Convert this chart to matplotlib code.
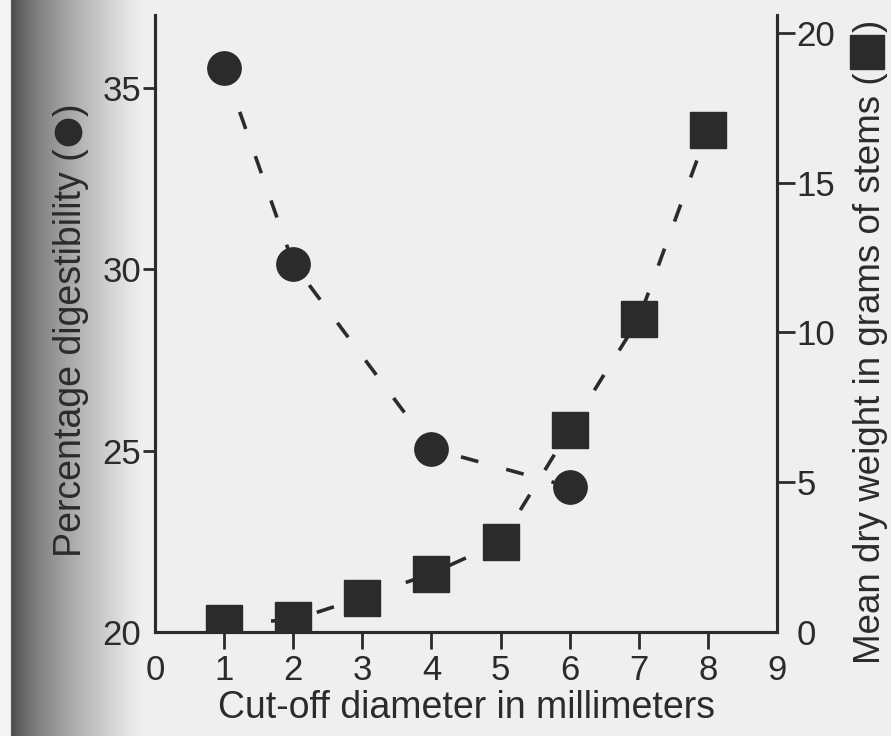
import numpy as np
import matplotlib.pyplot as plt
from matplotlib import font_manager
from matplotlib.lines import Line2D
from matplotlib.transforms import IdentityTransform

# dados
diametro_circ = [1, 2, 4, 6]
digestibilidade = [35.55, 30.15, 25.05, 24.0]

diametro_quad = [1, 2, 3, 4, 5, 6, 7, 8]
peso_seco = [0.3, 0.4, 1.15, 1.95, 3.0, 6.75, 10.45, 16.75]

xticks = list(range(0, 10))
yticks_esq = [20, 25, 30, 35]
yticks_dir = [0, 5, 10, 15, 20]

cor = '#2b2b2b'
fundo = '#efefef'
plt.rcParams['font.family'] = ['Liberation Sans', 'DejaVu Sans']

# rotulos verticais do original usam fonte estreita
nomes = {f.name for f in font_manager.fontManager.ttflist}
if 'Liberation Sans Narrow' in nomes:
    fonte_rot = ['Liberation Sans Narrow', 'Liberation Sans']
    tam_esq, tam_dir = 32, 32
else:
    fonte_rot = ['Liberation Sans', 'DejaVu Sans']
    tam_esq, tam_dir = 27, 26.5

W, H = 891, 736
fig = plt.figure(figsize=(W / 100, H / 100), dpi=100, facecolor=fundo)

# sombra escura do scan na borda esquerda
sombra = fig.add_axes([0, 0, 150 / W, 1])
sombra.axis('off')
xs = np.linspace(0, 150, 300)
perfil = np.where(xs < 11, 0.96, 0.28 + (0.937 - 0.28) * np.clip((xs - 11) / 130, 0, 1) ** 0.7)
sombra.imshow(np.tile(perfil, (10, 1)), cmap='gray', vmin=0, vmax=1, aspect='auto',
              extent=[0, 1, 0, 1], interpolation='bilinear')

ax = fig.add_axes([155 / W, 1 - 632 / H, 622 / W, 617 / H])
ax.patch.set_alpha(0)
ax2 = ax.twinx()

ax.plot(diametro_circ, digestibilidade, linestyle=(0, (5, 8)), color=cor, lw=2.6, zorder=1)
ax.plot(diametro_circ, digestibilidade, 'o', color=cor, ms=24, zorder=3)

ax2.plot(diametro_quad, peso_seco, linestyle=(0, (5, 8)), color=cor, lw=2.6, zorder=1)
ax2.plot(diametro_quad, peso_seco, 's', color=cor, ms=25.5, zorder=3)

ax.set_xlim(0, 9)
ax.set_ylim(20, 37)
ax2.set_ylim(0, 20.6)

ax.set_xticks(xticks)
ax.set_yticks(yticks_esq)
ax2.set_yticks(yticks_dir)

for a in (ax, ax2):
    a.spines['top'].set_visible(False)
    for s in ('left', 'right', 'bottom'):
        a.spines[s].set_linewidth(2.2)
        a.spines[s].set_color(cor)

ax.tick_params(axis='x', direction='out', length=12, width=2, color=cor,
               labelsize=25, labelcolor=cor, pad=4)
ax.tick_params(axis='y', direction='out', length=9, width=2, color=cor,
               labelsize=25, labelcolor=cor, pad=1)
ax2.tick_params(axis='y', direction='out', length=13, width=2, color=cor,
                labelsize=25, labelcolor=cor, pad=1)

# sem marca nos extremos
ax.xaxis.get_major_ticks()[0].tick1line.set_visible(False)
ax.xaxis.get_major_ticks()[-1].tick1line.set_visible(False)
ax.yaxis.get_major_ticks()[0].tick1line.set_visible(False)
ax2.yaxis.get_major_ticks()[0].tick2line.set_visible(False)

ax.set_xlabel('Cut-off diameter in millimeters', fontsize=27, color=cor, labelpad=2)

renderer = fig.canvas.get_renderer()


def rotulo(xb, y0, texto, simbolo, tam, ms):
    # texto vertical em pixels da imagem, com o simbolo desenhado como marcador
    kw = dict(rotation=90, rotation_mode='anchor', ha='left', va='baseline',
              fontsize=tam, color=cor, family=fonte_rot, transform=IdentityTransform())
    t = fig.text(xb, H - y0, texto, **kw)
    topo = t.get_window_extent(renderer).y1
    em = tam * 100 / 72
    r = ms * 100 / 72 / 2
    fig.add_artist(Line2D([xb - 0.36 * em], [topo + 3 + r], marker=simbolo, ms=ms,
                          color=cor, lw=0, transform=IdentityTransform()))
    fig.text(xb, topo + 6 + 2 * r, ')', **kw)


rotulo(81, 557, 'Percentage digestibility (', 'o', tam_esq, 19)
rotulo(880, 664, 'Mean dry weight in grams of stems (', 's', tam_dir, 25)

plt.savefig('out.png', dpi=100, facecolor=fundo)
